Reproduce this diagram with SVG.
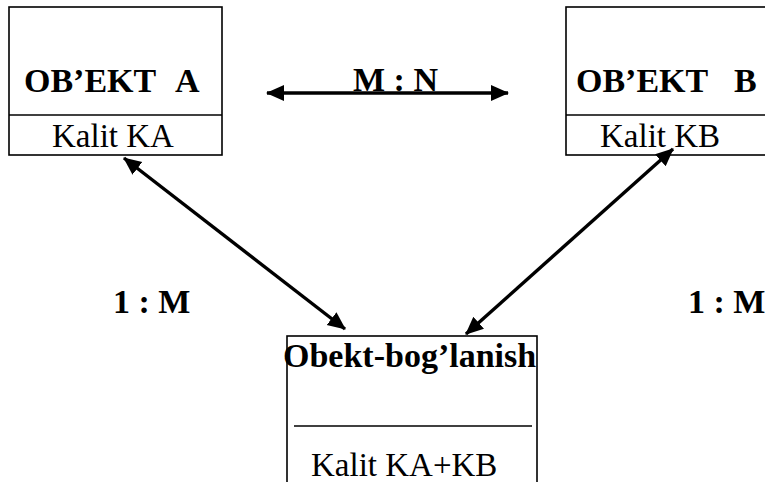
<svg xmlns="http://www.w3.org/2000/svg" width="765" height="482" viewBox="0 0 765 482">
  <style>
    .box { fill: #ffffff; stroke: #000000; stroke-width: 1.6; }
    .sep { stroke: #000000; stroke-width: 1.6; }
    text { font-family: 'Liberation Serif', 'Times New Roman', Times, serif; fill: #000000; }
    .title { font-weight: bold; font-size: 34px; }
    .key { font-weight: normal; font-size: 33px; }
    .rel { stroke: #000000; stroke-width: 3.4; fill: none; marker-start: url(#head); marker-end: url(#head); }
  </style>
  <defs>
    <marker id="head" markerUnits="userSpaceOnUse" markerWidth="20" markerHeight="18" refX="17" refY="8" orient="auto-start-reverse">
      <path d="M0,0 L18,8 L0,16 Z" fill="#000000"/>
    </marker>
  </defs>

  <rect width="765" height="482" fill="#ffffff"/>

  <!-- entity A -->
  <g id="entity-a">
    <rect class="box" x="9" y="7" width="213" height="148"/>
    <line class="sep" x1="9" y1="115" x2="222" y2="115"/>
    <text class="title" x="24" y="92">OB’EKT<tspan x="175">A</tspan></text>
    <text class="key" x="52" y="147">Kalit KA</text>
  </g>

  <!-- entity B -->
  <g id="entity-b">
    <rect class="box" x="566" y="7" width="210" height="148"/>
    <line class="sep" x1="566" y1="115" x2="776" y2="115"/>
    <text class="title" x="576" y="92">OB’EKT<tspan x="734">B</tspan></text>
    <text class="key" x="600" y="147">Kalit KB</text>
  </g>

  <!-- link entity -->
  <g id="link-entity">
    <rect class="box" x="287" y="336" width="250" height="160"/>
    <line class="sep" x1="294" y1="426" x2="532" y2="426"/>
    <text class="title" x="283" y="367">Obekt-bog’lanish</text>
    <text class="key" x="311" y="476">Kalit KA+KB</text>
  </g>

  <!-- relationships -->
  <g id="connectors">
    <line class="rel" x1="267" y1="93" x2="508" y2="93"/>
    <line class="rel" x1="124" y1="158" x2="345" y2="329"/>
    <line class="rel" x1="673" y1="149" x2="466" y2="334"/>
  </g>

  <g id="labels">
    <text class="title" x="353" y="91">M : N</text>
    <text class="title" x="113" y="313">1 : M</text>
    <text class="title" x="688" y="313">1 : M</text>
  </g>
</svg>
